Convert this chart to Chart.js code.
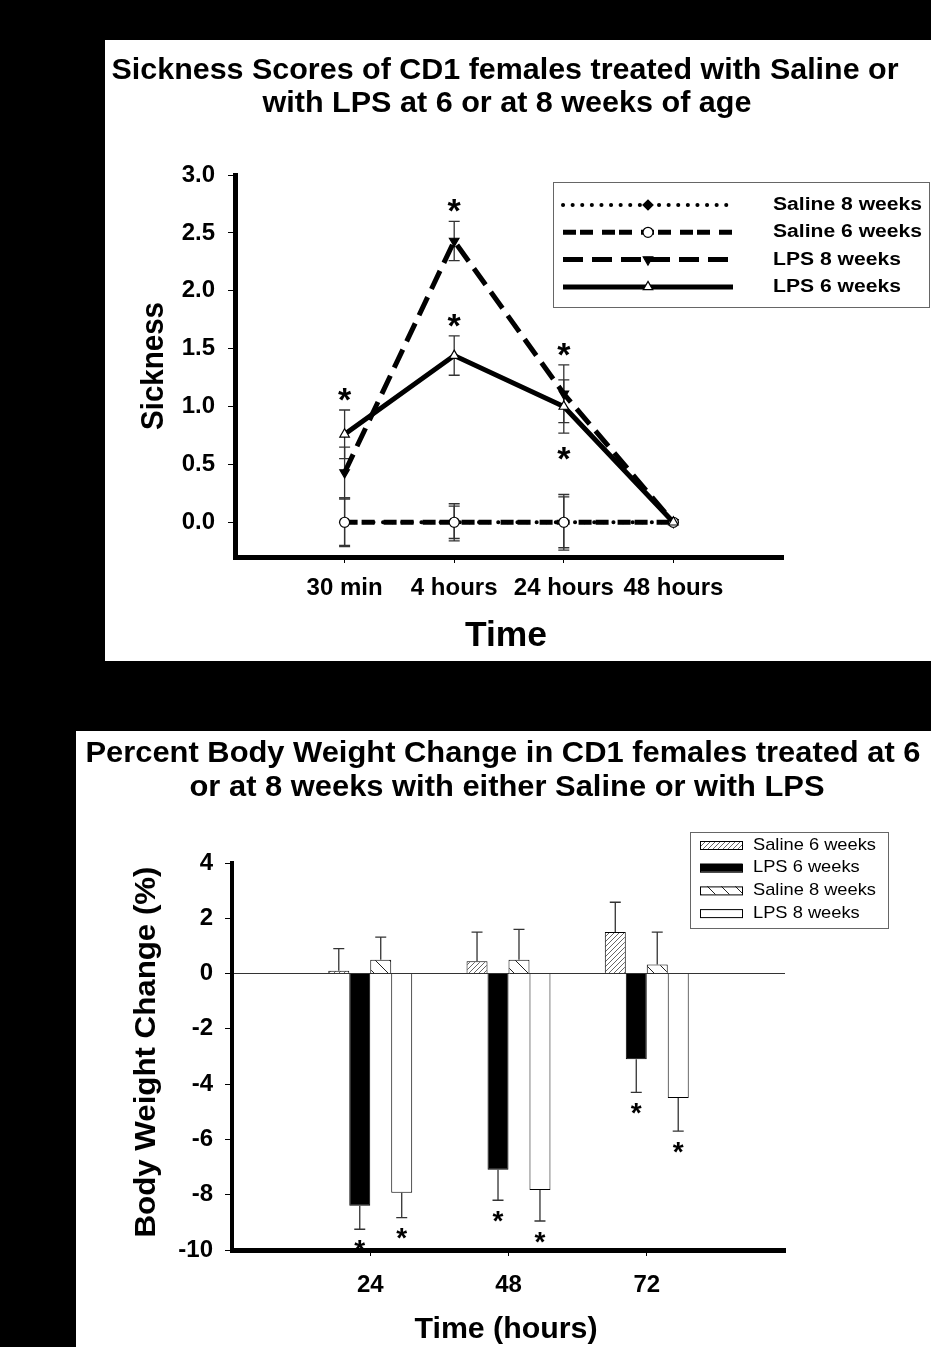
<!DOCTYPE html>
<html>
<head>
<meta charset="utf-8">
<script src="https://cdn.jsdelivr.net/npm/chart.js@4.4.0/dist/chart.umd.min.js"></script>
<style>
  html, body { margin: 0; padding: 0; background: #000; }
  body { width: 931px; height: 1347px; position: relative; overflow: hidden; }
  .panel { position: absolute; background: #fff; }
  #p1 { left: 105px; top: 40px; width: 826px; height: 621px; }
  #p2 { left: 76px; top: 731px; width: 855px; height: 616px; }
</style>
</head>
<body>
<div class="panel" id="p1"><canvas id="sickChart"></canvas></div>
<div class="panel" id="p2"><canvas id="weightChart"></canvas></div>
<script>
// --- sickness scores (top) ---
const timeLabels = ['30 min', '4 hours', '24 hours', '48 hours'];
const sickSeries = ['Saline 8 weeks', 'Saline 6 weeks', 'LPS 8 weeks', 'LPS 6 weeks'];
const saline8Sick = [0, 0, 0, 0];
const saline8SickErr = [0.2, 0.14, 0.22, 0];
const saline6Sick = [0, 0, 0, 0];
const saline6SickErr = [0.21, 0.16, 0.24, 0];
const lps8Sick = [0.43, 2.43, 1.11, 0];
const lps8SickErr = [0.22, 0.17, 0.25, 0];
const lps6Sick = [0.76, 1.44, 1.0, 0];
const lps6SickErr = [0.21, 0.17, 0.23, 0];
const sickTicks = [0, 0.5, 1, 1.5, 2, 2.5, 3];
// asterisks: [dataset, point, side]
const sickStars = [[3, 0, 'up'], [2, 1, 'up'], [3, 1, 'up'], [2, 2, 'up'], [3, 2, 'down']];

// --- body weight change (bottom) ---
const hourLabels = ['24', '48', '72'];
const bwSeries = ['Saline 6 weeks', 'LPS 6 weeks', 'Saline 8 weeks', 'LPS 8 weeks'];
const saline6Bw = [0.1, 0.45, 1.5];
const saline6BwErr = [0.8, 1.05, 1.08];
const lps6Bw = [-8.4, -7.1, -3.1];
const lps6BwErr = [0.85, 1.1, 1.2];
const saline8Bw = [0.5, 0.5, 0.33];
const saline8BwErr = [0.82, 1.1, 1.17];
const lps8Bw = [-7.93, -7.83, -4.5];
const lps8BwErr = [0.9, 1.12, 1.2];
const bwTicks = [-10, -8, -6, -4, -2, 0, 2, 4];
const bwStars = [[1, 0], [3, 0], [1, 1], [3, 1], [1, 2], [3, 2]];

const FONT = "'Liberation Sans', Arial, Helvetica, sans-serif";
Chart.defaults.font.family = FONT;
Chart.defaults.color = '#000';

function toPts(vals) {
  return vals.map((v, i) => ({ x: i + 1, y: v }));
}

// text squeezed/stretched to the width seen in the figure
function fitText(ctx, text, x, y, font, width, rot, align) {
  ctx.save();
  ctx.font = font;
  ctx.fillStyle = '#000';
  ctx.textAlign = align || 'center';
  ctx.textBaseline = 'middle';
  ctx.translate(x, y);
  if (rot) ctx.rotate(rot);
  const w = ctx.measureText(text).width;
  ctx.scale(width ? width / w : 1, 1);
  ctx.fillText(text, 0, 0);
  ctx.restore();
}

function star(ctx, x, cy, size) {
  ctx.save();
  ctx.font = 'bold ' + size + 'px ' + FONT;
  ctx.fillStyle = '#000';
  ctx.textAlign = 'center';
  ctx.textBaseline = 'alphabetic';
  ctx.fillText('*', x, cy + size * 0.52);
  ctx.restore();
}

function marker(ctx, ds, x, y) {
  ctx.save();
  ctx.fillStyle = ds.pointBackgroundColor;
  ctx.strokeStyle = ds.pointBorderColor;
  ctx.lineWidth = ds.pointBorderWidth;
  ctx.setLineDash([]);
  Chart.helpers.drawPoint(ctx, {
    pointStyle: ds.pointStyle, rotation: ds.pointRotation || 0,
    radius: ds.pointRadius, borderWidth: ds.pointBorderWidth
  }, x, y);
  ctx.restore();
}

function errorBars(chart, oneSided) {
  const ctx = chart.ctx;
  const ys = chart.scales.y;
  ctx.save();
  ctx.strokeStyle = '#333';
  ctx.lineWidth = 1.3;
  chart.data.datasets.forEach((ds, di) => {
    const meta = chart.getDatasetMeta(di);
    ds.errors.forEach((e, i) => {
      if (!e) return;
      const v = ds.data[i].y;
      const x = meta.data[i].x;
      let top, bot;
      if (oneSided) {
        top = ys.getPixelForValue(v);
        bot = ys.getPixelForValue(v >= 0 ? v + e : v - e);
      } else {
        top = ys.getPixelForValue(v + e);
        bot = ys.getPixelForValue(v - e);
      }
      ctx.beginPath();
      ctx.moveTo(x, top); ctx.lineTo(x, bot);
      if (!oneSided) { ctx.moveTo(x - 5.5, top); ctx.lineTo(x + 5.5, top); }
      ctx.moveTo(x - 5.5, bot); ctx.lineTo(x + 5.5, bot);
      ctx.stroke();
    });
  });
  ctx.restore();
}

// ---------- top chart ----------
const sickPlugin = {
  id: 'sickExtras',
  beforeDatasetsDraw(chart) { errorBars(chart, false); },
  afterDraw(chart) {
    const ctx = chart.ctx;
    const ys = chart.scales.y;
    fitText(ctx, 'Sickness Scores of CD1 females treated with Saline or', 400, 31, 'bold 30px ' + FONT, 787);
    fitText(ctx, 'with LPS at 6 or at 8 weeks of age', 402, 64, 'bold 30px ' + FONT, 489);
    fitText(ctx, 'Sickness', 49, 326, 'bold 32px ' + FONT, 128, -Math.PI / 2);
    fitText(ctx, 'Time', 401, 596, 'bold 35px ' + FONT, 82);

    sickStars.forEach(([di, i, side]) => {
      const ds = chart.data.datasets[di];
      const v = ds.data[i].y, e = ds.errors[i];
      const x = chart.getDatasetMeta(di).data[i].x;
      const y = side === 'up' ? ys.getPixelForValue(v + e) - 17 : ys.getPixelForValue(v - e) + 19;
      star(ctx, x, y, 34);
    });

    // legend box
    ctx.save();
    ctx.strokeStyle = '#666';
    ctx.lineWidth = 1;
    ctx.strokeRect(448.5, 142.5, 376, 125);
    ctx.font = 'bold 18px ' + FONT;
    const sx = 149 / ctx.measureText(sickSeries[0]).width;
    chart.data.datasets.forEach((ds, k) => {
      const y = 165 + k * 27.3;
      ctx.strokeStyle = '#000';
      ctx.lineWidth = ds.borderWidth;
      ctx.lineCap = ds.borderCapStyle || 'butt';
      ctx.setLineDash(ds.borderDash || []);
      ctx.beginPath(); ctx.moveTo(458, y); ctx.lineTo(628, y); ctx.stroke();
      marker(ctx, ds, 543, y);
      ctx.save();
      ctx.translate(668, y);
      ctx.scale(sx, 1);
      ctx.fillStyle = '#000';
      ctx.textAlign = 'left';
      ctx.textBaseline = 'middle';
      ctx.fillText(ds.label, 0, 0);
      ctx.restore();
    });
    ctx.restore();
  }
};

const sickLine = (label, vals, errs, extra) => Object.assign({
  label: label, data: toPts(vals), errors: errs,
  borderColor: '#000', borderWidth: 5, tension: 0, fill: false,
  pointBorderColor: '#000', pointBorderWidth: 1.2, pointRadius: 5
}, extra);

new Chart(document.getElementById('sickChart'), {
  type: 'line',
  data: {
    datasets: [
      sickLine(sickSeries[0], saline8Sick, saline8SickErr, {
        borderWidth: 4, borderDash: [0.1, 9.5], borderCapStyle: 'round',
        pointStyle: 'rectRot', pointRadius: 5, pointBackgroundColor: '#000', order: 4
      }),
      sickLine(sickSeries[1], saline6Sick, saline6SickErr, {
        borderDash: [13, 4, 13, 9], pointStyle: 'circle', pointRadius: 5,
        pointBackgroundColor: '#fff', order: 2
      }),
      sickLine(sickSeries[2], lps8Sick, lps8SickErr, {
        borderDash: [20, 9], pointStyle: 'triangle', pointRotation: 180, pointRadius: 5.5,
        pointBackgroundColor: '#000', order: 3
      }),
      sickLine(sickSeries[3], lps6Sick, lps6SickErr, {
        pointStyle: 'triangle', pointRadius: 5.5, pointBackgroundColor: '#fff', order: 1
      })
    ]
  },
  options: {
    responsive: true,
    maintainAspectRatio: false,
    animation: false,
    layout: { padding: { left: 0, top: 135, right: 148, bottom: 0 } },
    plugins: { legend: { display: false }, title: { display: false }, tooltip: { enabled: false } },
    scales: {
      x: {
        type: 'linear', min: 0, max: 5,
        afterBuildTicks: s => { s.ticks = timeLabels.map((t, i) => ({ value: i + 1 })); },
        afterFit: s => { s.height = 104; },
        ticks: {
          callback: v => timeLabels[v - 1], autoSkip: false, maxRotation: 0,
          font: { size: 24, weight: 'bold' }, color: '#000', padding: 11
        },
        grid: { drawOnChartArea: false, color: '#000', tickLength: 6, lineWidth: 1 },
        border: { display: true, width: 5, color: '#000' }
      },
      y: {
        min: -0.3, max: 3.0,
        afterBuildTicks: s => { s.ticks = sickTicks.map(v => ({ value: v })); },
        afterFit: s => { s.width = 130; },
        ticks: {
          callback: v => v.toFixed(1),
          font: { size: 24, weight: 'bold' }, color: '#000', padding: 13
        },
        grid: { drawOnChartArea: false, color: '#000', tickLength: 7, lineWidth: 1 },
        border: { display: true, width: 5, color: '#000' }
      }
    }
  },
  plugins: [sickPlugin]
});

// ---------- bottom chart ----------
function hatch(dir, size, color, lw) {
  const c = document.createElement('canvas');
  c.width = size; c.height = size;
  const g = c.getContext('2d');
  g.fillStyle = '#fff';
  g.fillRect(0, 0, size, size);
  g.strokeStyle = color;
  g.lineWidth = lw;
  g.beginPath();
  if (dir === '/') {
    g.moveTo(0, size); g.lineTo(size, 0);
    g.moveTo(-1, 1); g.lineTo(1, -1);
    g.moveTo(size - 1, size + 1); g.lineTo(size + 1, size - 1);
  } else {
    g.moveTo(0, 0); g.lineTo(size, size);
    g.moveTo(-1, size - 1); g.lineTo(1, size + 1);
    g.moveTo(size - 1, -1); g.lineTo(size + 1, 1);
  }
  g.stroke();
  return g.createPattern(c, 'repeat');
}

const bwFills = [hatch('/', 5, '#666', 1), '#000', hatch('\\', 14, '#222', 1), '#fff'];

const bwPlugin = {
  id: 'bwExtras',
  afterDatasetsDraw(chart) { errorBars(chart, true); },
  afterDraw(chart) {
    const ctx = chart.ctx;
    const ys = chart.scales.y;
    fitText(ctx, 'Percent Body Weight Change in CD1 females treated at 6', 427, 23, 'bold 30px ' + FONT, 835);
    fitText(ctx, 'or at 8 weeks with either Saline or with LPS', 431, 57, 'bold 30px ' + FONT, 635);
    fitText(ctx, 'Body Weight Change (%)', 71, 321, 'bold 30px ' + FONT, 371, -Math.PI / 2);
    fitText(ctx, 'Time (hours)', 430, 599, 'bold 30px ' + FONT, 183);

    bwStars.forEach(([di, i]) => {
      const ds = chart.data.datasets[di];
      const v = ds.data[i].y, e = ds.errors[i];
      const x = chart.getDatasetMeta(di).data[i].x;
      star(ctx, x, ys.getPixelForValue(v - e) + 15, 28);
    });

    ctx.save();
    ctx.strokeStyle = '#666';
    ctx.lineWidth = 1;
    ctx.strokeRect(614.5, 101.5, 198, 96);
    ctx.font = '17px ' + FONT;
    const sx = 123 / ctx.measureText(bwSeries[0]).width;
    chart.data.datasets.forEach((ds, k) => {
      const y = 114 + k * 22.7;
      ctx.fillStyle = ds.backgroundColor;
      ctx.fillRect(624, y - 4, 42, 8);
      ctx.strokeStyle = '#000';
      ctx.lineWidth = 1;
      ctx.strokeRect(624.5, y - 3.5, 42, 8);
      ctx.save();
      ctx.translate(677, y);
      ctx.scale(sx, 1);
      ctx.fillStyle = '#000';
      ctx.textAlign = 'left';
      ctx.textBaseline = 'middle';
      ctx.fillText(ds.label, 0, 0);
      ctx.restore();
    });
    ctx.restore();
  }
};

const bwBar = (k, vals, errs) => ({
  label: bwSeries[k], data: toPts(vals), errors: errs,
  backgroundColor: bwFills[k], borderColor: '#000', borderWidth: 1,
  categoryPercentage: 0.607, barPercentage: 1.0
});

new Chart(document.getElementById('weightChart'), {
  type: 'bar',
  data: {
    datasets: [
      bwBar(0, saline6Bw, saline6BwErr),
      bwBar(1, lps6Bw, lps6BwErr),
      bwBar(2, saline8Bw, saline8BwErr),
      bwBar(3, lps8Bw, lps8BwErr)
    ]
  },
  options: {
    responsive: true,
    maintainAspectRatio: false,
    animation: false,
    layout: { padding: { left: 0, top: 132, right: 146, bottom: 0 } },
    plugins: { legend: { display: false }, title: { display: false }, tooltip: { enabled: false } },
    scales: {
      x: {
        type: 'linear', min: 0, max: 4, offset: false,
        afterBuildTicks: s => { s.ticks = hourLabels.map((h, i) => ({ value: i + 1 })); },
        afterFit: s => { s.height = 97; },
        ticks: {
          callback: v => hourLabels[v - 1], autoSkip: false, maxRotation: 0,
          font: { size: 24, weight: 'bold' }, color: '#000', padding: 15
        },
        grid: { offset: false, drawOnChartArea: false, color: '#000', tickLength: 6, lineWidth: 1 },
        border: { display: true, width: 5, color: '#000' }
      },
      y: {
        min: -10, max: 4,
        afterBuildTicks: s => { s.ticks = bwTicks.map(v => ({ value: v })); },
        afterFit: s => { s.width = 156; },
        ticks: { font: { size: 24, weight: 'bold' }, color: '#000', padding: 12 },
        grid: {
          color: c => (c.tick && c.tick.value === 0 ? '#333' : 'rgba(0,0,0,0)'),
          tickColor: '#000', tickLength: 7, lineWidth: 1
        },
        border: { display: true, width: 4, color: '#000' }
      }
    }
  },
  plugins: [bwPlugin]
});
</script>
</body>
</html>
